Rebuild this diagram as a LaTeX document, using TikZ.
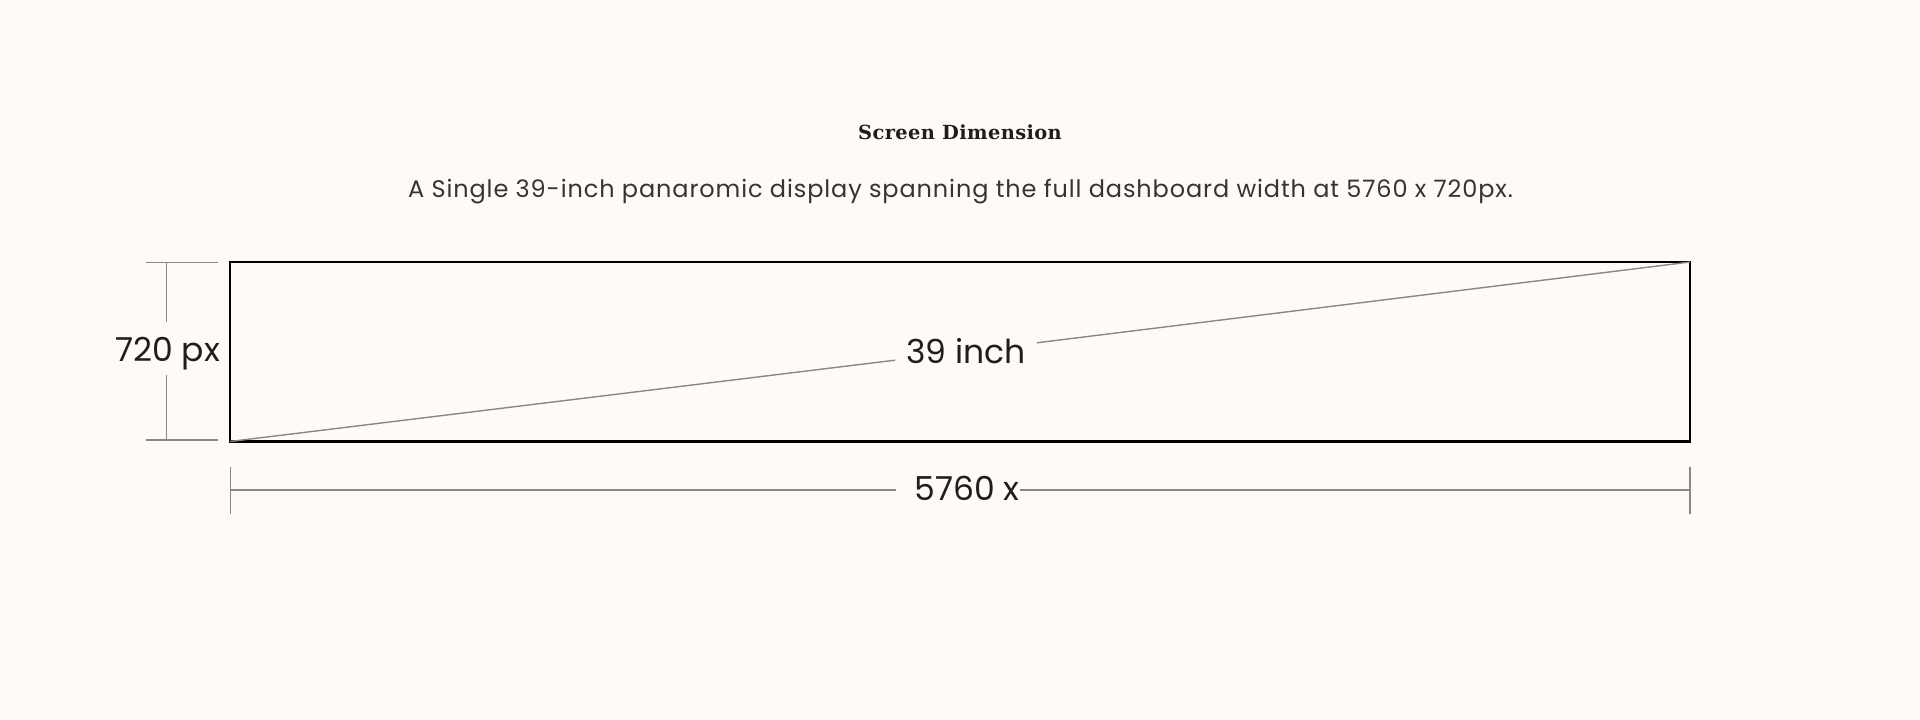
\documentclass[tikz,border=0pt]{standalone}
\usepackage{fontspec}
\setmainfont{Poppins}
\newfontfamily\subfont[LetterSpace=3.7]{Poppins}
\newfontfamily\titlefont[LetterSpace=2]{DejaVu Serif}
\definecolor{bgc}{HTML}{FFF9F7}
\definecolor{dimgray}{HTML}{888888}
\definecolor{txt}{HTML}{1E1E1E}
\begin{document}
\begin{tikzpicture}[x=1pt,y=-1pt,
  dimline/.style={draw=dimgray,line width=1.4pt},
  screenbox/.style={draw=black,line width=2.2pt,inner sep=0pt,outer sep=0pt,minimum width=1460pt,minimum height=179.5pt},
  biglabel/.style={font=\fontsize{33}{40}\selectfont,text=txt}]
\fill[bgc] (0,0) rectangle (1920,720);
\useasboundingbox (0,0) rectangle (1920,720);
% title and subtitle
\node[anchor=base,text=txt,font=\titlefont\bfseries\fontsize{19.4}{23}\selectfont] (title) at (960,139) {Screen Dimension};
\node[anchor=base,text=txt!90,font=\subfont\fontsize{24}{29}\selectfont] (sub) at (960.5,197.3) {A Single 39-inch panaromic display spanning the full dashboard width at 5760 x 720px.};
% screen
\node[screenbox,anchor=north west] (screen) at (230,262) {};
\node[biglabel,fill=bgc,inner xsep=11pt,inner ysep=4pt] (diag) at (966,351.5) {39 inch};
\draw[dimline] (screen.south west) -- (diag);
\draw[dimline] (diag) -- (screen.north east);
% left dimension
\coordinate (lt1) at (146,262.7);
\coordinate (lt2) at (218,262.7);
\coordinate (lb1) at (146,440);
\coordinate (lb2) at (218,440);
\coordinate (lvt) at (166.7,262.7);
\coordinate (lvb) at (166.7,440);
\draw[dimline] (lt1) -- (lt2);
\draw[dimline] (lb1) -- (lb2);
\node[biglabel,anchor=base,inner sep=0pt,text height=39pt,text depth=14pt] (hlab) at (167.7,361) {720 px};
\draw[dimline] (lvt) -- (lvt |- hlab.north);
\draw[dimline] (lvb |- hlab.south) -- (lvb);
% bottom dimension
\coordinate (bl1) at (230.7,466.7);
\coordinate (bl2) at (230.7,514);
\coordinate (br1) at (1690,466.7);
\coordinate (br2) at (1690,514);
\coordinate (bml) at (230.7,490);
\coordinate (bmr) at (1690,490);
\draw[dimline] (bl1) -- (bl2);
\draw[dimline] (br1) -- (br2);
\node[biglabel,anchor=base,inner xsep=0pt] (wlab) at (967,500) {5760 x};
\draw[dimline] (bml) -- ([xshift=-18pt]wlab.west |- bml);
\draw[dimline] (wlab.east |- bmr) -- (bmr);
\end{tikzpicture}
\end{document}
